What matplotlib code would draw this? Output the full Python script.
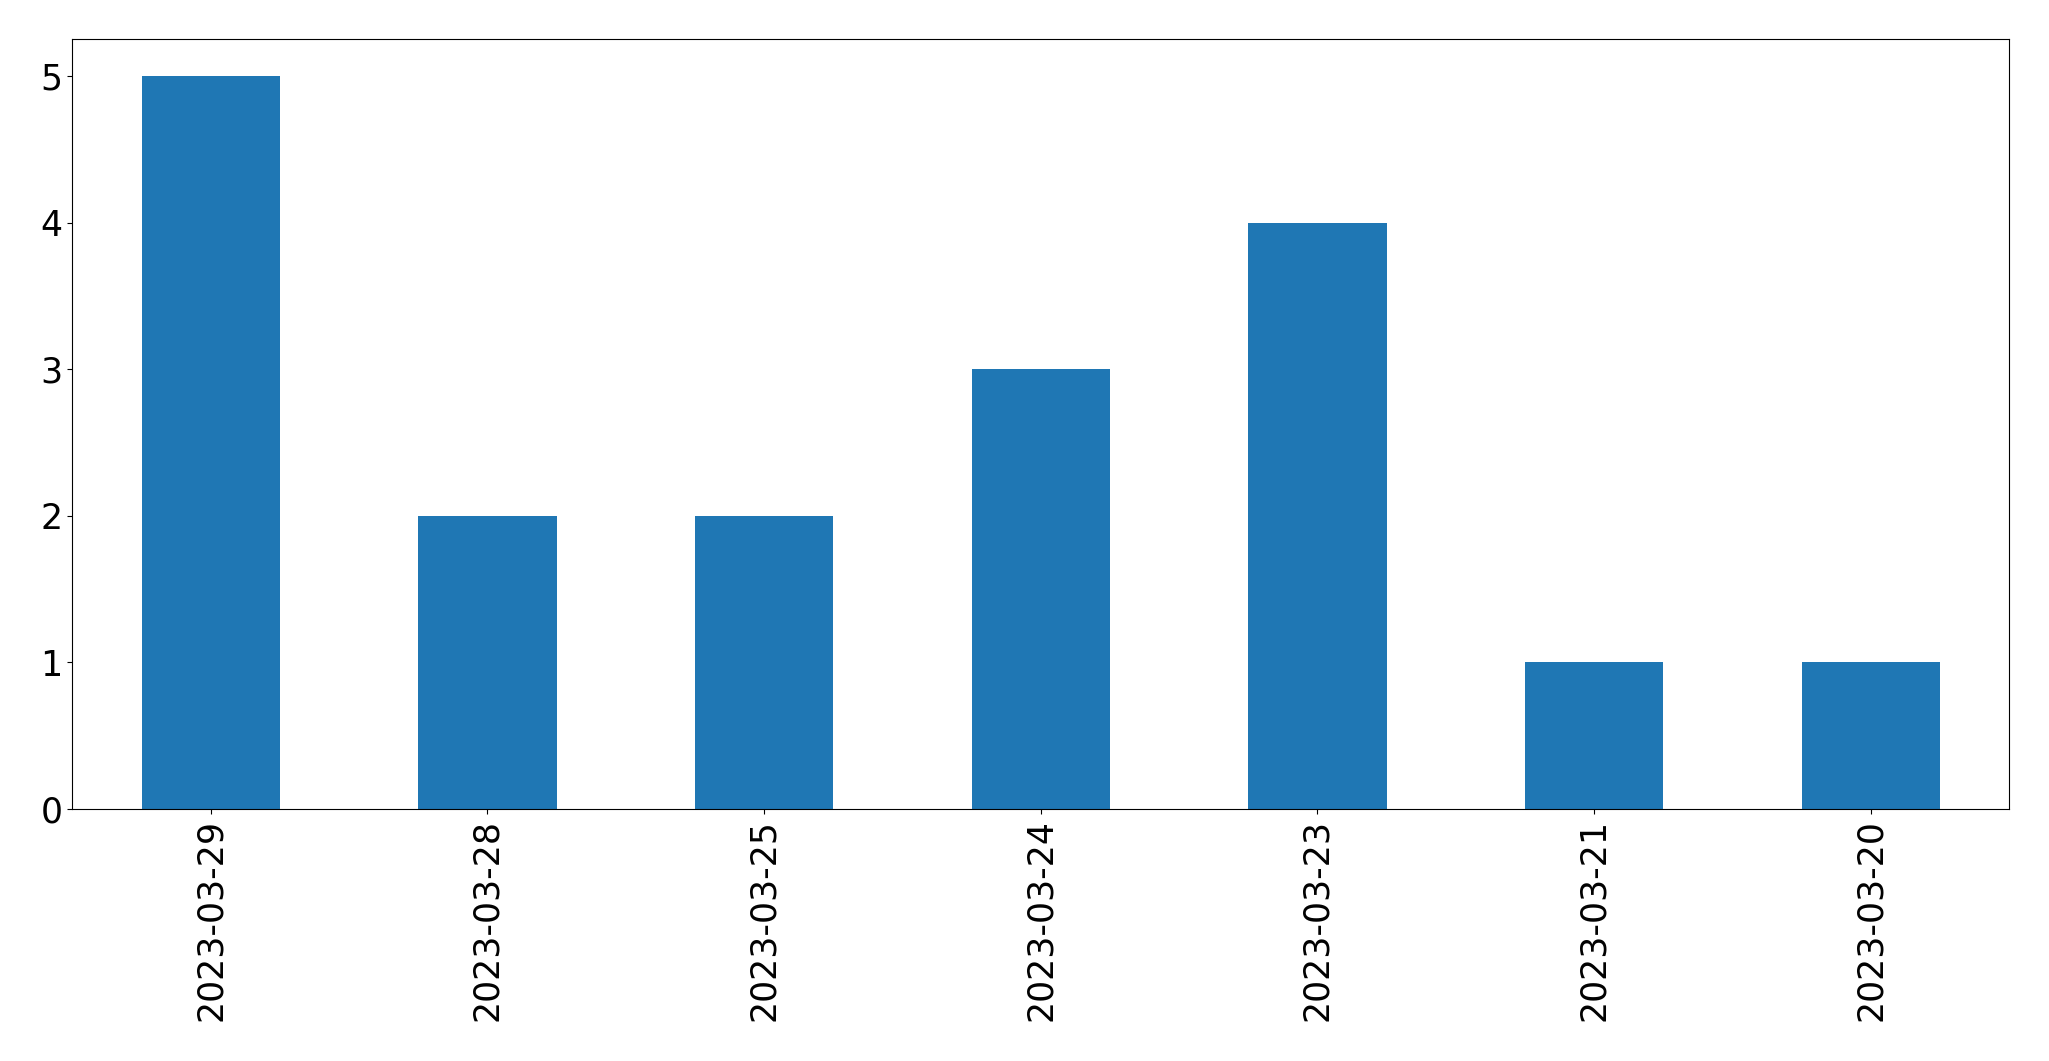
import matplotlib
matplotlib.use("Agg")
import matplotlib.pyplot as plt
import numpy as np

# daily counts, in the order shown on the chart
dates = ["2023-03-29", "2023-03-28", "2023-03-25", "2023-03-24",
         "2023-03-23", "2023-03-21", "2023-03-20"]
counts = [5, 2, 2, 3, 4, 1, 1]


def main():
    fig = plt.figure(figsize=(20.49, 10.61), dpi=100)
    ax = fig.add_axes([0.0353, 0.2375, 0.9453, 0.7255])

    x = np.arange(len(dates))
    ax.bar(x, counts, width=0.5, color="#1f77b4")
    ax.set_xlim(-0.5, len(dates) - 0.5)
    ax.set_ylim(0, max(counts) * 1.05)
    ax.set_xticks(x)
    ax.set_xticklabels(dates, rotation=90)
    ax.tick_params(axis="both", labelsize=25)

    fig.savefig("out.png", dpi=100)
    plt.close(fig)


if __name__ == "__main__":
    main()
